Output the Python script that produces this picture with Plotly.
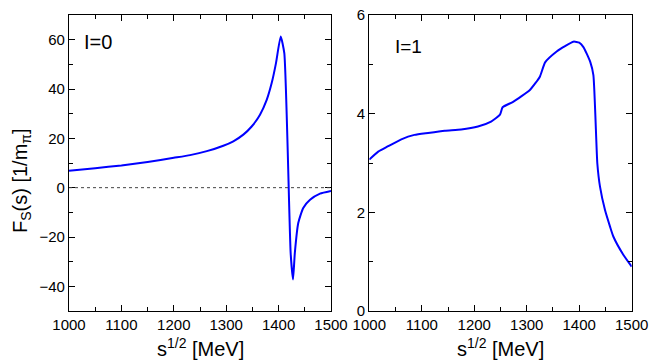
import plotly.graph_objects as go

W, H = 654, 364

# I=0 amplitude
s_i0 = [1000, 1050, 1100, 1150, 1200, 1231, 1263, 1294.5, 1313.6, 1332.7, 1348.6,
        1364.5, 1377.3, 1386.8, 1395, 1404, 1410.9, 1423, 1427.5, 1431,
        1437.5, 1447, 1460, 1479, 1500]
f_i0 = [6.9, 7.9, 9.0, 10.4, 12.1, 13.2, 14.8, 17.0, 18.8, 21.5, 24.8,
        29.6, 35.6, 42.4, 50.5, 61.3, 54.5, -26.5, -37.2, -26.4,
        -14.3, -8.2, -4.9, -2.4, -1.3]

# I=1 amplitude
s_i1 = [1000, 1017, 1036, 1061, 1086, 1112, 1144, 1175, 1207, 1232, 1249, 1254,
        1274, 1306, 1325, 1335, 1357, 1373, 1389, 1400, 1408, 1421, 1427, 1434.5,
        1439.6, 1449, 1458.7, 1465, 1484, 1500]
f_i1 = [3.07, 3.23, 3.34, 3.48, 3.57, 3.61, 3.655, 3.68, 3.74, 3.84, 3.98, 4.13,
        4.24, 4.48, 4.75, 5.04, 5.26, 5.37, 5.46, 5.44, 5.35, 5.05, 4.78, 2.99,
        2.52, 2.05, 1.71, 1.51, 1.14, 0.90]

FONT = "Arial, Liberation Sans, sans-serif"


def px_x(p):
    return p / W


def px_y(p):
    return 1 - p / H


fig = go.Figure()
fig.add_trace(go.Scatter(x=s_i0, y=f_i0, mode="lines",
                         line=dict(color="#0000ff", width=2, shape="spline", smoothing=0.5),
                         xaxis="x", yaxis="y"))
fig.add_trace(go.Scatter(x=s_i1, y=f_i1, mode="lines",
                         line=dict(color="#0000ff", width=2, shape="spline", smoothing=0.5),
                         xaxis="x2", yaxis="y2"))

axis_common = dict(
    showline=True, linecolor="black", linewidth=1.3, mirror="ticks",
    ticks="inside", ticklen=6, tickwidth=1.3, tickcolor="black",
    showgrid=False, zeroline=False, automargin=False,
    tickfont=dict(family=FONT, size=15, color="black"),
)

fig.update_layout(
    width=W, height=H,
    margin=dict(l=0, r=0, t=0, b=0, autoexpand=False),
    paper_bgcolor="white", plot_bgcolor="white",
    showlegend=False,
    font=dict(family=FONT, color="black"),
    xaxis=dict(domain=[px_x(69), px_x(331)], range=[1000, 1500], dtick=100,
               minor=dict(ticks="inside", ticklen=4, dtick=50, tickcolor="black", tickwidth=1.3),
               anchor="y", **axis_common),
    yaxis=dict(domain=[px_y(311), px_y(15)], range=[-50, 70], dtick=20,
               minor=dict(ticks="inside", ticklen=4, dtick=10, tickcolor="black", tickwidth=1.3),
               anchor="x", **axis_common),
    xaxis2=dict(domain=[px_x(369.3), px_x(631.7)], range=[1000, 1500], dtick=100,
                minor=dict(ticks="inside", ticklen=4, dtick=50, tickcolor="black", tickwidth=1.3),
                anchor="y2", **axis_common),
    yaxis2=dict(domain=[px_y(311), px_y(15)], range=[0, 6], dtick=2,
                minor=dict(ticks="inside", ticklen=4, dtick=1, tickcolor="black", tickwidth=1.3),
                anchor="x2", **axis_common),
)

# dotted zero line
fig.add_shape(type="line", xref="x", yref="y", x0=1000, x1=1500, y0=0, y1=0,
              line=dict(color="#444444", width=1, dash="dot"))

ann = [
    dict(text="I=0", x=px_x(98), y=px_y(42), size=20),
    dict(text="I=1", x=px_x(408), y=px_y(46), size=19),
    dict(text="s<sup>1/2</sup> [MeV]", x=px_x(200), y=px_y(347), size=20),
    dict(text="s<sup>1/2</sup> [MeV]", x=px_x(500), y=px_y(347), size=20),
]
for a in ann:
    fig.add_annotation(text=a["text"], x=a["x"], y=a["y"], xref="paper", yref="paper",
                       showarrow=False, xanchor="center", yanchor="middle",
                       font=dict(family=FONT, size=a["size"], color="black"))

fig.add_annotation(text="F<sub>S</sub>(s) [1/m<sub>π</sub>]", x=px_x(21), y=px_y(181),
                   xref="paper", yref="paper", showarrow=False, textangle=-90,
                   xanchor="center", yanchor="middle",
                   font=dict(family=FONT, size=20, color="black"))

# the page body has a default 8px margin; drop it so the figure sits at 0,0
fig.write_html("out.html", config={"displayModeBar": False},
               post_script="document.body.style.margin='0';")
